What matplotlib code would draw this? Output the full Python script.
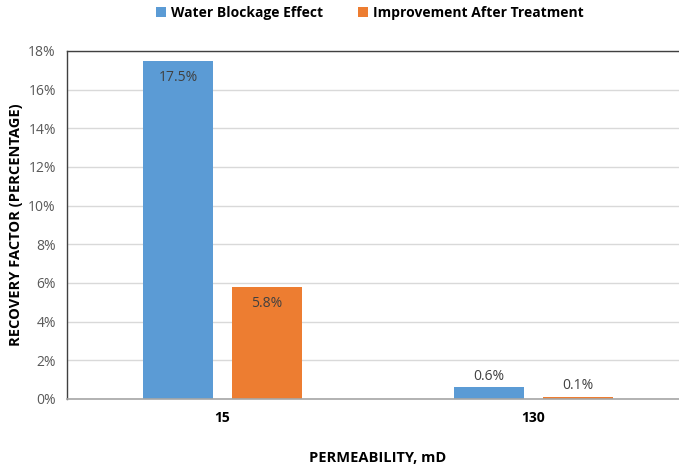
import numpy as np
import matplotlib.pyplot as plt
from matplotlib.ticker import PercentFormatter

categories = ["15", "130"]
water_blockage = [17.5, 0.6]
improvement = [5.8, 0.1]
series_names = ["Water Blockage Effect", "Improvement After Treatment"]

BLUE = "#5B9BD5"
ORANGE = "#ED7D31"
FONT = ["Open Sans", "DejaVu Sans"]

plt.rcParams["font.family"] = FONT

fig = plt.figure(figsize=(6.79, 4.68), dpi=100)
# axes right edge runs past the figure edge, like the reference
ax = fig.add_axes([67 / 679, 69 / 468, 622 / 679, 348 / 468])

x = np.arange(len(categories))
w = 0.225
b1 = ax.bar(x - 0.143, water_blockage, w, color=BLUE, label=series_names[0], zorder=2)
b2 = ax.bar(x + 0.143, improvement, w, color=ORANGE, label=series_names[1], zorder=2)

ax.set_xlim(-0.5, 1.5)
ax.set_ylim(0, 18)
ax.set_yticks(np.arange(0, 19, 2))
ax.yaxis.set_major_formatter(PercentFormatter(decimals=0))
ax.grid(axis="y", color="#D9D9D9", linewidth=1, zorder=0)
ax.set_xticks(x)
ax.set_xticklabels(categories, fontweight="bold", fontsize=10, color="#000000")
ax.tick_params(axis="y", labelsize=10, labelcolor="#595959", length=0, pad=8)
ax.tick_params(axis="x", length=0, pad=9)

for s in ["left", "top"]:
    ax.spines[s].set_color("#404040")
    ax.spines[s].set_linewidth(1)
ax.spines["bottom"].set_color("#A6A6A6")
ax.spines["bottom"].set_linewidth(1.2)
ax.spines["right"].set_visible(False)

for bars in (b1, b2):
    for r in bars:
        v = r.get_height()
        cx = r.get_x() + r.get_width() / 2
        if v > 2:
            ax.annotate(f"{v:.1f}%", (cx, v), xytext=(0, -12), textcoords="offset points",
                        ha="center", va="center", fontsize=10, color="#404040")
        else:
            ax.annotate(f"{v:.1f}%", (cx, v), xytext=(0, 8), textcoords="offset points",
                        ha="center", va="center", fontsize=10, color="#404040")

ax.set_ylabel("RECOVERY FACTOR (PERCENTAGE)", fontweight="bold", fontsize=10.5, labelpad=4)
ax.set_xlabel("PERMEABILITY, mD", fontweight="bold", fontsize=10.5, labelpad=18)

fig.legend(handles=[b1, b2], loc="center", bbox_to_anchor=(370 / 679, 1 - 13 / 468),
           ncol=2, frameon=False, prop={"weight": "bold", "size": 10},
           handlelength=0.7, handleheight=0.7, columnspacing=2.5, handletextpad=0.4)

fig.savefig("out.png", dpi=100)
